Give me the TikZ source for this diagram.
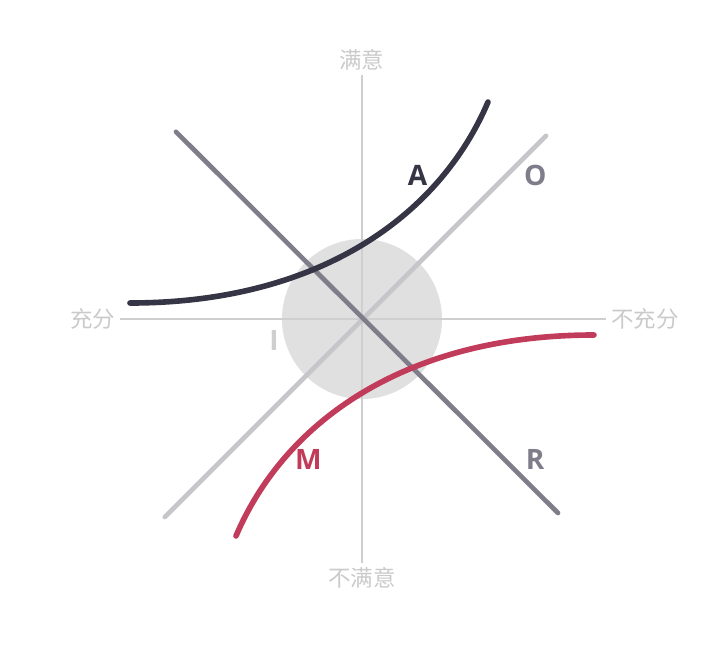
\documentclass[tikz,border=0pt]{standalone}
\usepackage{fontspec}
\setmainfont{Open Sans}
\newfontfamily\cjk{Noto Sans CJK SC}
\usepackage{tikz}
\usetikzlibrary{positioning}

\definecolor{axisgray}{HTML}{CFCFCF}
\definecolor{zonegray}{HTML}{E0E0E0}
\definecolor{textgray}{HTML}{CACACA}
\definecolor{attractive}{HTML}{353545}
\definecolor{reverse}{HTML}{7E7D89}
\definecolor{onedim}{HTML}{C5C5CA}
\definecolor{mustbe}{HTML}{C13B5A}

\begin{document}
\begin{tikzpicture}[
        axisline/.style={axisgray, line width=1pt},
        axislabel/.style={textgray, font=\cjk\fontsize{16}{18}\selectfont},
        kanoline/.style={line width=3.3pt, line cap=round},
        kanocurve/.style={line width=4pt, line cap=round},
        kanolabel/.style={font=\bfseries\fontsize{20}{22}\selectfont}
    ]
            \useasboundingbox (-9.05, -8.35) rectangle (8.95, 7.975);

            % indifferent zone
            \fill [zonegray] (0, 0) circle (2);

            % axes
            \node[axislabel] (full) at (-6.725, 0) {充分};
            \node[axislabel] (notfull) at (7.075, 0) {不充分};
            \node[axislabel] (sat) at (0, 6.475) {满意};
            \node[axislabel] (unsat) at (0, -6.475) {不满意};
            \draw [axisline] (full.east) -- (notfull.west);
            \draw [axisline] (sat.south) -- (unsat.north);

            % straight lines
            \draw [kanoline, onedim] (-4.93, -4.95) -- (4.6, 4.58);
            \draw [kanoline, reverse] (-4.65, 4.68) -- (4.9, -4.85);

            % curves
            \draw [kanocurve, attractive]
                (-5.8, 0.4) .. controls (-1.05, 0.4) and (1.95, 2.6) .. (3.15, 5.425);
            \draw [kanocurve, mustbe]
                (-3.15, -5.425) .. controls (-1.95, -2.6) and (1.05, -0.4) .. (5.8, -0.4);

            % labels
            \node[kanolabel, attractive] (labA) at (1.39, 3.6) {A};
            \node[kanolabel, reverse] (labO) at (4.33, 3.6) {O};
            \node[kanolabel, mustbe] (labM) at (-1.34, -3.51) {M};
            \node[kanolabel, reverse] (labR) at (4.33, -3.51) {R};
            \node[kanolabel, axisgray] (labI) at (-2.2, -0.54) {I};
\end{tikzpicture}
\end{document}
